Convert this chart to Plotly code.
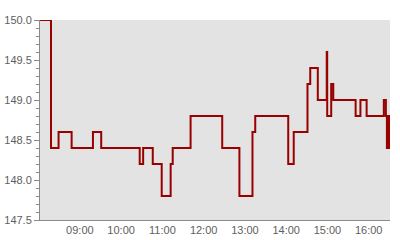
import plotly.graph_objects as go

times = [
    "08:02:00", "08:18:00", "08:29:00", "08:48:00", "09:19:00", "09:31:00",
    "10:27:00", "10:32:00", "10:46:00", "10:59:00", "11:12:00", "11:15:00",
    "11:41:00", "12:27:00", "12:52:00", "13:11:00", "13:15:00", "14:03:00",
    "14:11:00", "14:31:00", "14:35:00", "14:46:00", "14:59:00", "14:59:40",
    "15:05:30", "15:08:30", "15:41:00", "15:48:00", "15:57:00", "16:22:00",
    "16:25:00", "16:26:30", "16:27:00", "16:27:40", "16:28:20", "16:29:00",
    "16:29:40", "16:30:20", "16:31:00",
]
prices = [
    150.0, 148.4, 148.6, 148.4, 148.6, 148.4,
    148.2, 148.4, 148.2, 147.8, 148.2, 148.4,
    148.8, 148.4, 147.8, 148.6, 148.8, 148.2,
    148.6, 149.2, 149.4, 149.0, 149.6, 148.8,
    149.2, 149.0, 148.8, 149.0, 148.8, 149.0,
    148.8, 148.4, 148.8, 148.4, 148.8, 148.4,
    148.8, 148.4, 148.8,
]
day = "2024-01-02 "
x_range = [day + "08:02:00", day + "16:31:00"]
x_tick_vals = [day + f"{h:02d}:00:00" for h in range(9, 17)]
x_tick_text = [f"{h:02d}:00" for h in range(9, 17)]
y_range = [147.5, 150.0]

fig = go.Figure(go.Scatter(
    x=[day + t for t in times], y=prices, mode="lines",
    line=dict(color="#990000", width=2, shape="hv"),
    hoverinfo="skip",
))

fig.update_layout(
    width=400, height=240,
    margin=dict(l=40, r=10, t=20, b=20),
    paper_bgcolor="white", plot_bgcolor="#e3e3e3",
    showlegend=False,
    font=dict(family="Liberation Sans, Arial, sans-serif", size=11, color="#606060"),
)
fig.update_xaxes(
    type="date", range=x_range, tickvals=x_tick_vals, ticktext=x_tick_text,
    showgrid=False, zeroline=False, showline=True, linecolor="#8a8a8a", linewidth=1,
    ticks="", tickfont=dict(size=11, color="#606060"), automargin=False,
)
fig.update_yaxes(
    range=y_range, dtick=0.5, tick0=147.5, tickformat=".1f",
    showgrid=False, zeroline=False, showline=True, linecolor="#8a8a8a", linewidth=1,
    ticks="outside", ticklen=5, tickcolor="#8a8a8a", tickwidth=1,
    minor=dict(dtick=0.1, ticks="outside", ticklen=3, tickcolor="#8a8a8a", showgrid=False),
    tickfont=dict(size=11, color="#606060"), automargin=False,
)

fig.write_html("out.html")
